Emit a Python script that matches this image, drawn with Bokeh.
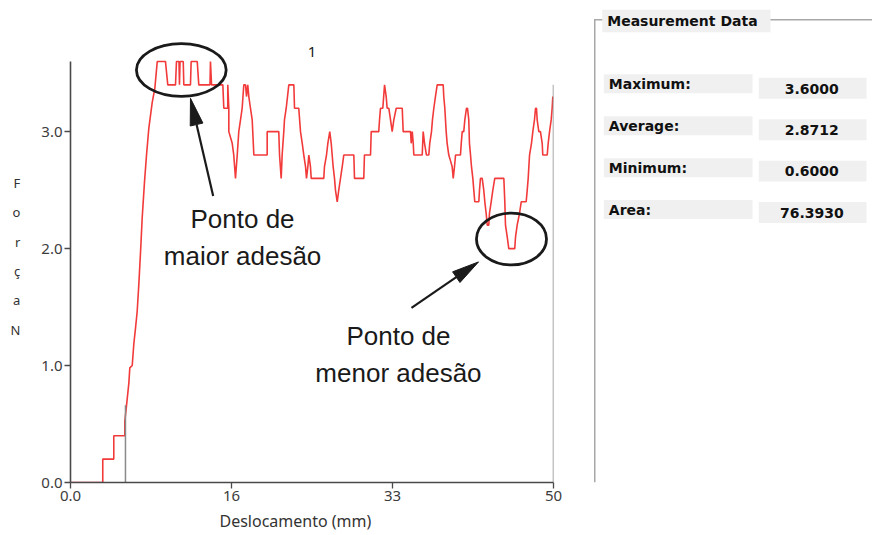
import math
from bokeh.plotting import figure
from bokeh.layouts import row
from bokeh.models import Range1d, FixedTicker, Label, BoxAnnotation, Title
from bokeh.embed import file_html
from bokeh.resources import INLINE

# ---------------- data ----------------
displacement_mm = [
    0.00, 3.34, 3.34, 4.48, 4.48, 5.62, 5.62, 5.80, 6.04, 6.14, 6.39, 6.55, 6.73, 6.90,
    7.07, 7.25, 7.42, 7.66, 7.87, 8.11, 8.46, 8.73, 8.98, 9.83, 10.07, 10.87, 10.97,
    11.23, 11.28, 11.34, 11.67, 11.73, 12.42, 12.49, 13.12, 13.28, 14.44, 14.49, 14.60,
    15.77, 15.87, 16.28, 16.28, 16.39, 16.39, 16.74, 16.90, 17.08, 17.26, 17.42, 17.60,
    17.77, 17.94, 18.12, 18.22, 18.35, 18.46, 18.63, 18.81, 18.98, 20.36, 20.36, 21.56,
    21.64, 21.81, 21.91, 22.08, 22.15, 22.33, 22.60, 23.12, 23.19, 23.63, 23.81, 23.99,
    24.15, 24.33, 24.43, 24.57, 24.67, 24.84, 24.92, 26.22, 26.29, 26.50, 26.64, 26.84,
    26.99, 27.19, 27.33, 27.43, 27.61, 27.77, 27.95, 28.13, 28.29, 29.33, 29.40, 30.36,
    30.43, 31.06, 31.13, 31.91, 31.99, 32.09, 32.33, 32.51, 32.68, 32.78, 32.95, 33.13,
    33.30, 33.47, 33.72, 34.34, 34.44, 35.20, 35.27, 35.38, 35.48, 35.54, 36.41, 36.51,
    36.65, 36.85, 37.09, 37.19, 37.37, 37.47, 37.61, 37.78, 37.96, 38.58, 38.64, 38.75,
    38.89, 38.99, 39.16, 39.34, 39.51, 39.62, 39.75, 39.86, 40.37, 40.45, 40.55, 40.71,
    40.82, 40.99, 41.10, 41.23, 41.30, 41.41, 41.51, 41.65, 41.75, 41.85, 42.27, 42.34,
    42.44, 42.62, 42.78, 42.89, 43.03, 43.14, 43.30, 43.37, 43.55, 43.72, 43.92, 44.86,
    44.96, 45.03, 45.21, 45.37, 45.99, 46.07, 46.24, 46.48, 46.66, 47.17, 47.28, 47.38,
    47.52, 47.72, 47.86, 48.03, 48.14, 48.24, 48.31, 48.48, 48.65, 48.83, 48.89, 49.35,
    49.45, 49.59, 49.76, 49.86, 49.93,
]
force_N = [
    0.0, 0.0, 0.2, 0.2, 0.4, 0.4, 0.52, 0.66, 0.85, 0.98, 1.0, 1.18, 1.32, 1.46,
    1.69, 1.97, 2.26, 2.57, 2.80, 3.03, 3.25, 3.37, 3.6, 3.6, 3.4, 3.4, 3.6,
    3.6, 3.4, 3.6, 3.6, 3.4, 3.4, 3.6, 3.6, 3.4, 3.4, 3.6, 3.4,
    3.4, 3.2, 3.2, 3.4, 3.2, 3.0, 2.9, 2.8, 2.6, 2.8, 3.0, 3.1,
    3.2, 3.4, 3.4, 3.3, 3.4, 3.3, 3.2, 3.1, 2.8, 2.8, 3.0, 3.0,
    2.8, 2.6, 2.8, 3.0, 3.1, 3.2, 3.4, 3.4, 3.2, 3.2, 3.0, 2.9,
    2.8, 2.7, 2.6, 2.7, 2.8, 2.7, 2.6, 2.6, 2.7, 2.8, 2.9, 3.0,
    2.9, 2.7, 2.6, 2.5, 2.4, 2.5, 2.6, 2.7, 2.8, 2.8, 2.6, 2.6,
    2.8, 2.8, 3.0, 3.0, 3.1, 3.2, 3.2, 3.4, 3.3, 3.2, 3.2, 3.1,
    3.0, 3.1, 3.2, 3.2, 3.0, 3.0, 2.9, 3.0, 2.9, 2.8, 2.8, 3.0,
    2.9, 2.8, 2.8, 2.9, 3.0, 3.1, 3.2, 3.3, 3.4, 3.4, 3.3, 3.2,
    3.0, 2.9, 2.8, 2.75, 2.7, 2.6, 2.7, 2.8, 2.8, 2.9, 3.0, 3.0,
    3.1, 3.2, 3.2, 3.1, 2.9, 2.8, 2.7, 2.6, 2.5, 2.4, 2.4, 2.5,
    2.6, 2.6, 2.5, 2.4, 2.3, 2.2, 2.2, 2.3, 2.4, 2.5, 2.6, 2.6,
    2.4, 2.2, 2.1, 2.0, 2.0, 2.1, 2.2, 2.3, 2.4, 2.4, 2.5, 2.6,
    2.8, 2.9, 3.0, 3.1, 3.2, 3.2, 3.1, 3.0, 3.0, 2.9, 2.8, 2.8,
    2.9, 3.0, 3.1, 3.2, 3.3,
]
cursor_mm = [5.69, 50.0]
cursor_top_N = [0.66, 3.4]

x_ticks = [0.0, 16.67, 33.33, 50.0]
x_tick_labels = ["0.0", "16", "33", "50"]
y_ticks = [0.0, 1.0, 2.0, 3.0]
y_tick_labels = ["0.0", "1.0", "2.0", "3.0"]

chart_title = "1"
x_title = "Deslocamento (mm)"
y_title_letters = ["F", "o", "r", "ç", "a", "N"]

stat_names = ["Maximum:", "Average:", "Minimum:", "Area:"]
stat_values = ["3.6000", "2.8712", "0.6000", "76.3930"]
panel_title = "Measurement Data"

note_high = "Ponto de\nmaior adesão"
note_low = "Ponto de\nmenor adesão"

# ---------------- main chart ----------------
H = 535
W1 = 592
BL, BR, BT, BB = 70, 39, 0, 52
PX_PER_N = 117.2
X_END = 50.0
Y_END = (H - BT - BB) / PX_PER_N
SX = (W1 - BL - BR) / X_END
SY = PX_PER_N

p = figure(width=W1, height=H, x_range=Range1d(0, X_END), y_range=Range1d(0, Y_END),
           toolbar_location=None, output_backend="svg",
           min_border_left=BL, min_border_right=BR, min_border_top=BT, min_border_bottom=BB)
p.outline_line_color = None
p.grid.visible = False
p.background_fill_color = "white"
p.border_fill_color = "white"

for ax in (p.xaxis, p.yaxis):
    ax.axis_line_color = "#4a4a4a"
    ax.axis_line_width = 1.6
    ax.major_tick_line_color = "#4a4a4a"
    ax.major_tick_line_width = 1.3
    ax.major_tick_in = 0
    ax.major_tick_out = 6
    ax.minor_tick_line_color = None
    ax.major_label_text_font = "Noto Sans"
    ax.major_label_text_font_size = "15px"
    ax.major_label_text_color = "#3c3c3c"
    ax.major_label_standoff = 2

p.xaxis.ticker = FixedTicker(ticks=x_ticks)
p.xaxis.major_label_overrides = dict(zip(x_ticks, x_tick_labels))
p.yaxis.ticker = FixedTicker(ticks=y_ticks)
p.yaxis.major_label_overrides = dict(zip(y_ticks, y_tick_labels))
p.yaxis.bounds = (0, max(force_N))

# vertical stacked axis title "F o r ç a N" (leading blank line nudges it down)
p.yaxis.axis_label = "\n" + "\n".join(y_title_letters)
p.yaxis.axis_label_orientation = "horizontal"
p.yaxis.axis_label_text_font = "Noto Sans"
p.yaxis.axis_label_text_font_size = "13px"
p.yaxis.axis_label_text_font_style = "normal"
p.yaxis.axis_label_text_color = "#333333"
p.yaxis.axis_label_text_line_height = 1.63
p.yaxis.axis_label_standoff = 18

# x axis title as a left-aligned title below the axis
p.add_layout(Title(text=x_title, align="left", offset=149, standoff=8,
                   text_font="Noto Sans", text_font_size="16px", text_font_style="normal",
                   text_color="#333333"), "below")

p.line(displacement_mm, force_N, line_color="#f23a3a", line_width=1.6)
p.segment(x0=cursor_mm, y0=[0, 0], x1=cursor_mm, y1=cursor_top_N,
          line_color="#8a8a8a", line_width=1.5)

# highlight ellipses (annotation geometry)
p.ellipse(x=[11.47, 45.65], y=[3.527, 2.082], width=[9.29, 7.25], height=[0.450, 0.444],
          fill_color=None, line_color="#1a1a1a", line_width=2.8)


def arrow(x0, y0, x1, y1, head_len=27, half_w=6.5):
    dx, dy = (x1 - x0) * SX, (y1 - y0) * SY
    L = math.hypot(dx, dy)
    ux, uy = dx / L, dy / L
    bx, by = x1 * SX - ux * head_len, y1 * SY - uy * head_len
    nx, ny = -uy, ux
    lx, ly = bx + nx * half_w, by + ny * half_w
    rx, ry = bx - nx * half_w, by - ny * half_w
    p.line([x0, bx / SX], [y0, by / SY], line_color="#1a1a1a", line_width=2.2)
    p.patch([x1, lx / SX, rx / SX], [y1, ly / SY, ry / SY], fill_color="#1a1a1a",
            line_color="#1a1a1a", line_width=1)


arrow(14.77, 2.449, 12.42, 3.285)
arrow(35.30, 1.493, 42.24, 1.886)

for txt, xx, yy in ((note_high, 17.81, 2.097), (note_low, 33.95, 1.092)):
    p.add_layout(Label(x=xx, y=yy, text=txt, text_align="center", text_baseline="middle",
                       text_font="Liberation Sans", text_font_size="26px",
                       text_color="#1a1a1a", text_line_height=1.23))

p.add_layout(Label(x=X_END / 2, y=3.677, text=chart_title, text_align="center",
                   text_baseline="middle", text_font="Noto Sans", text_font_size="15px",
                   text_color="#222222"))

# ---------------- measurement panel ----------------
# (its frame is aligned with the chart frame: page y 0 .. 483)
W2 = 280
PH = H - BB
q = figure(width=W2, height=H, x_range=Range1d(0, W2), y_range=Range1d(0, PH),
           toolbar_location=None, output_backend="svg", min_border=0,
           x_axis_type=None, y_axis_type=None)
q.outline_line_color = None
q.background_fill_color = "white"
q.border_fill_color = "white"


def ty(v):
    return PH - v


LINE = "#a8a8a8"
BG = "#f0f0f0"
q.add_layout(BoxAnnotation(left=1.5, right=W2, top=ty(18.5), bottom=ty(20),
                           fill_color=LINE, fill_alpha=1, line_color=None))
q.add_layout(BoxAnnotation(left=1.5, right=3, top=ty(18.5), bottom=ty(PH),
                           fill_color=LINE, fill_alpha=1, line_color=None))
q.add_layout(BoxAnnotation(left=9.7, right=178, top=ty(9.3), bottom=ty(31.7),
                           fill_color=BG, fill_alpha=1, line_color=None))
q.add_layout(Label(x=14.7, y=ty(20.5), text=panel_title, text_align="left",
                   text_baseline="middle", text_font="DejaVu Sans", text_font_style="bold",
                   text_font_size="14px", text_color="#111111"))

for i, (name, val) in enumerate(zip(stat_names, stat_values)):
    ly0 = 74 + 42 * i
    vy0 = 77.5 + 41.5 * i
    q.add_layout(BoxAnnotation(left=11.3, right=160, top=ty(ly0), bottom=ty(ly0 + 19),
                               fill_color=BG, fill_alpha=1, line_color=None))
    q.add_layout(BoxAnnotation(left=166.3, right=274, top=ty(vy0), bottom=ty(vy0 + 21),
                               fill_color=BG, fill_alpha=1, line_color=None))
    q.add_layout(Label(x=16.3, y=ty(ly0 + 9.8), text=name, text_align="left",
                       text_baseline="middle", text_font="DejaVu Sans",
                       text_font_style="bold", text_font_size="14px", text_color="#111111"))
    q.add_layout(Label(x=219.3, y=ty(vy0 + 10.8), text=val, text_align="center",
                       text_baseline="middle", text_font="DejaVu Sans",
                       text_font_style="bold", text_font_size="14px", text_color="#111111"))

layout = row(p, q)
open("out.html", "w").write(file_html(layout, INLINE))
